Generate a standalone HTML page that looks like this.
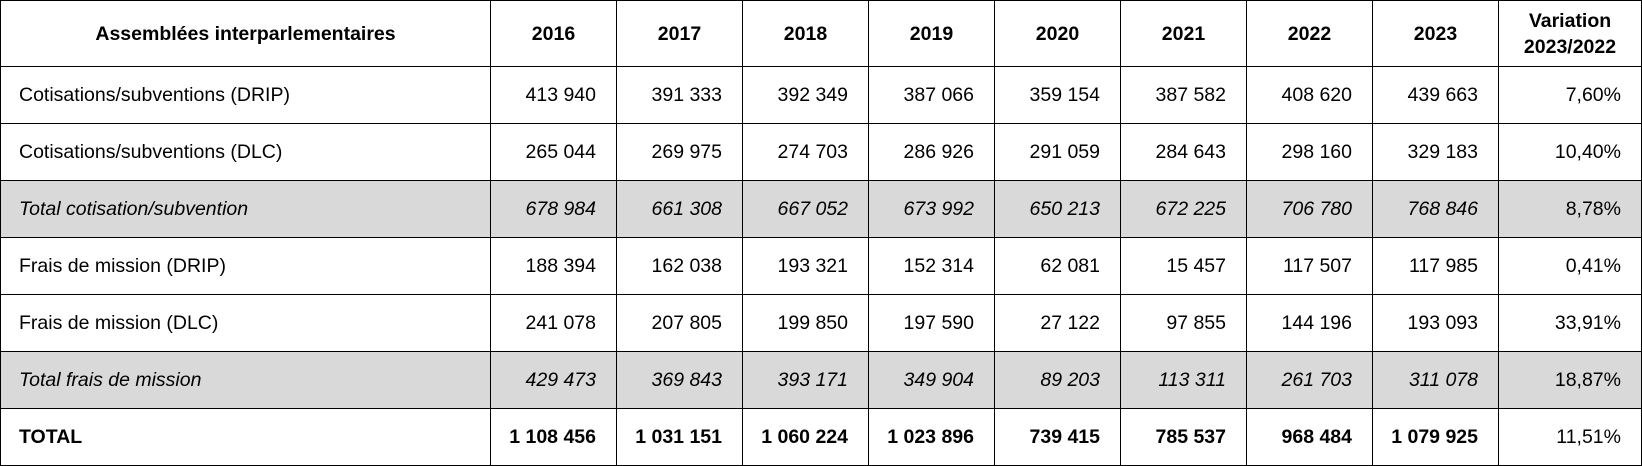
<!DOCTYPE html>
<html>
<head>
<meta charset="utf-8">
<style>
html,body{margin:0;padding:0;background:#fff;}
body{width:1642px;height:466px;overflow:hidden;}
.g{
  display:grid;
  width:1642px;height:466px;box-sizing:border-box;
  background:#000;padding:1px;gap:1px;
  grid-template-columns:489px repeat(8,125px) 142px;
  grid-template-rows:65px repeat(7,56px);
  font-family:"Liberation Sans",Arial,sans-serif;font-size:19.5px;color:#000;
}
.g>div{background:#fff;display:flex;align-items:center;justify-content:flex-end;padding-right:20px;white-space:nowrap;}
.g>div.l{justify-content:flex-start;padding-left:18px;padding-right:0;}
.g>div.h{justify-content:center;padding:0;font-weight:bold;text-align:center;line-height:26px;}
.g>div.s{background:#d9d9d9;font-style:italic;}
.g>div.b{font-weight:bold;}
</style>
</head>
<body>
<div class="g">
<div class="h">Assemblées interparlementaires</div>
<div class="h">2016</div><div class="h">2017</div><div class="h">2018</div><div class="h">2019</div><div class="h">2020</div><div class="h">2021</div><div class="h">2022</div><div class="h">2023</div>
<div class="h">Variation<br>2023/2022</div>

<div class="l">Cotisations/subventions (DRIP)</div>
<div>413 940</div><div>391 333</div><div>392 349</div><div>387 066</div><div>359 154</div><div>387 582</div><div>408 620</div><div>439 663</div><div>7,60%</div>

<div class="l">Cotisations/subventions (DLC)</div>
<div>265 044</div><div>269 975</div><div>274 703</div><div>286 926</div><div>291 059</div><div>284 643</div><div>298 160</div><div>329 183</div><div>10,40%</div>

<div class="l s">Total cotisation/subvention</div>
<div class="s">678 984</div><div class="s">661 308</div><div class="s">667 052</div><div class="s">673 992</div><div class="s">650 213</div><div class="s">672 225</div><div class="s">706 780</div><div class="s">768 846</div><div class="s" style="font-style:normal">8,78%</div>

<div class="l">Frais de mission (DRIP)</div>
<div>188 394</div><div>162 038</div><div>193 321</div><div>152 314</div><div>62 081</div><div>15 457</div><div>117 507</div><div>117 985</div><div>0,41%</div>

<div class="l">Frais de mission (DLC)</div>
<div>241 078</div><div>207 805</div><div>199 850</div><div>197 590</div><div>27 122</div><div>97 855</div><div>144 196</div><div>193 093</div><div>33,91%</div>

<div class="l s">Total frais de mission</div>
<div class="s">429 473</div><div class="s">369 843</div><div class="s">393 171</div><div class="s">349 904</div><div class="s">89 203</div><div class="s">113 311</div><div class="s">261 703</div><div class="s">311 078</div><div class="s" style="font-style:normal">18,87%</div>

<div class="l b">TOTAL</div>
<div class="b">1 108 456</div><div class="b">1 031 151</div><div class="b">1 060 224</div><div class="b">1 023 896</div><div class="b">739 415</div><div class="b">785 537</div><div class="b">968 484</div><div class="b">1 079 925</div><div>11,51%</div>
</div>
</body>
</html>
